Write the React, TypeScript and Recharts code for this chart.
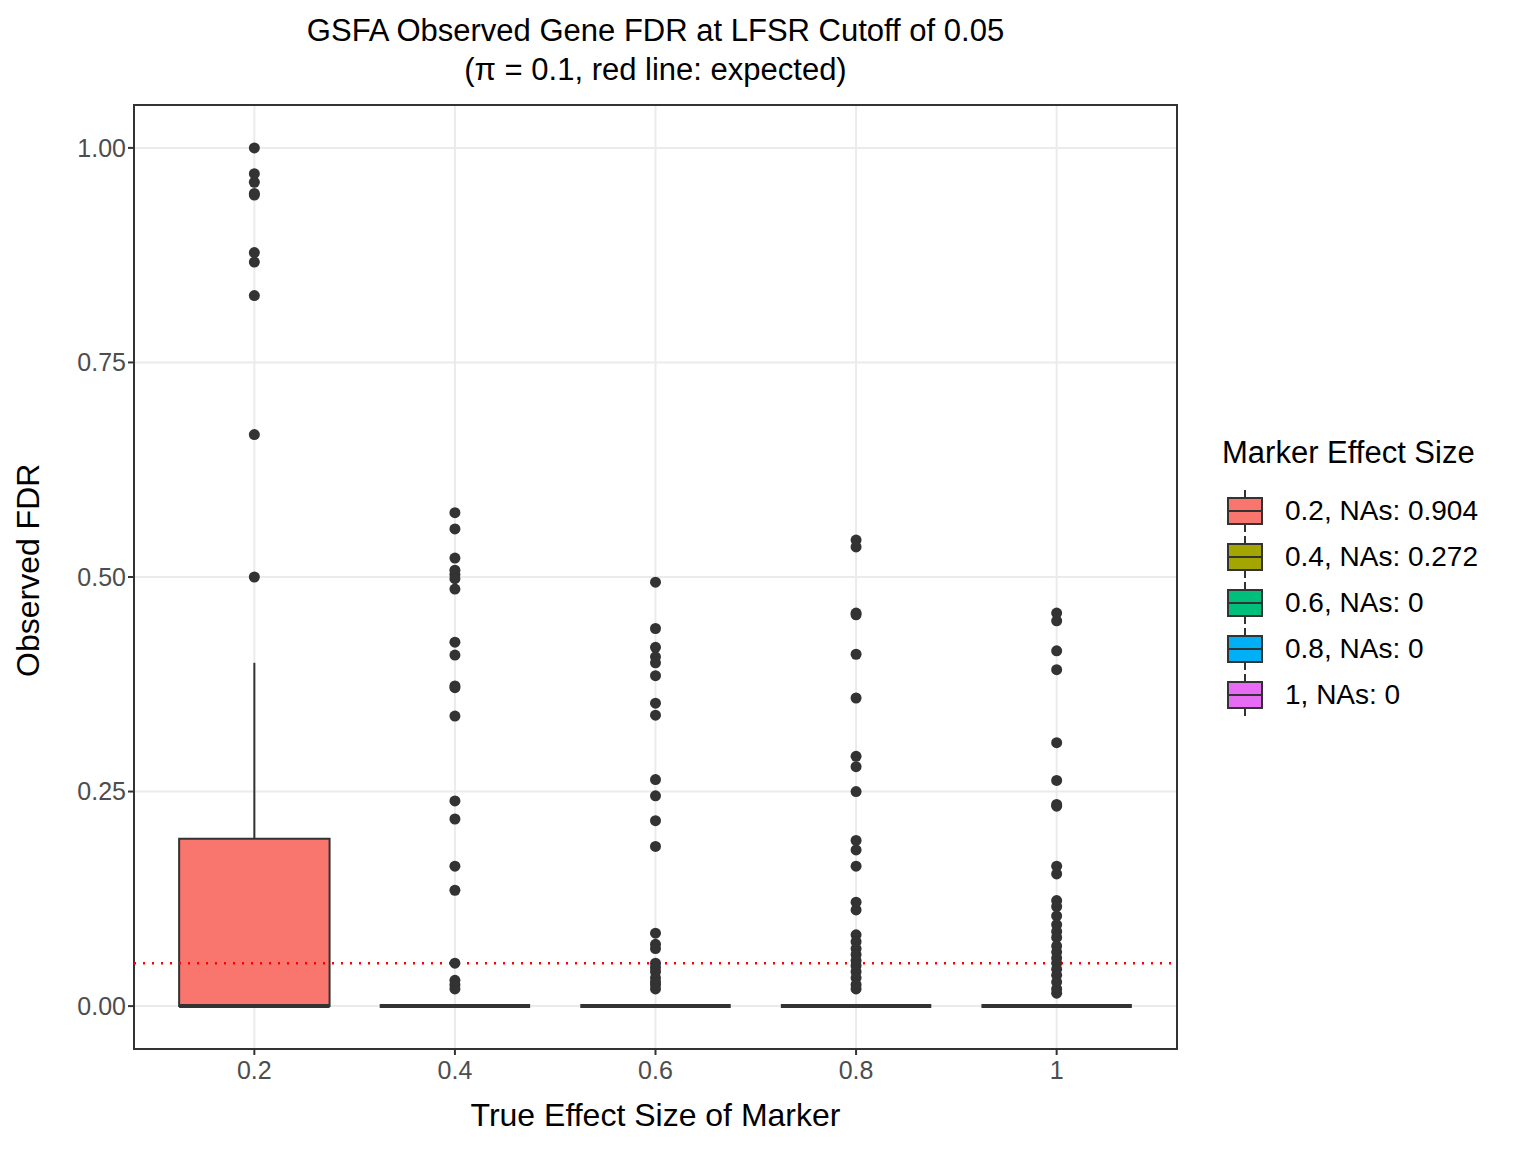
import { ComposedChart, Scatter, XAxis, YAxis, CartesianGrid, ReferenceArea, ReferenceLine } from 'recharts'

const groups = ['0.2', '0.4', '0.6', '0.8', '1']
const colors = ['#F8766D', '#A3A500', '#00BF7D', '#00B0F6', '#E76BF3']
const naLabels = ['0.2, NAs: 0.904', '0.4, NAs: 0.272', '0.6, NAs: 0', '0.8, NAs: 0', '1, NAs: 0']

// box stats: q1, median, q3, lower whisker, upper whisker
const q1 = [0, 0, 0, 0, 0]
const med = [0, 0, 0, 0, 0]
const q3 = [0.195, 0, 0, 0, 0]
const whiskLo = [0, 0, 0, 0, 0]
const whiskHi = [0.4, 0, 0, 0, 0]

const outliers: number[][] = [
  [1.0, 0.97, 0.96, 0.947, 0.945, 0.878, 0.867, 0.828, 0.666, 0.5],
  [0.575, 0.556, 0.522, 0.508, 0.503, 0.498, 0.486, 0.424, 0.409, 0.373, 0.371, 0.338, 0.239, 0.218, 0.163, 0.135, 0.05, 0.03, 0.025, 0.02],
  [0.494, 0.44, 0.418, 0.407, 0.4, 0.385, 0.353, 0.339, 0.264, 0.245, 0.216, 0.186, 0.085, 0.072, 0.067, 0.05, 0.045, 0.04, 0.033, 0.028, 0.025, 0.02],
  [0.543, 0.535, 0.458, 0.456, 0.41, 0.359, 0.291, 0.279, 0.25, 0.193, 0.182, 0.163, 0.121, 0.112, 0.083, 0.075, 0.067, 0.06, 0.053, 0.047, 0.04, 0.033, 0.025, 0.02],
  [0.458, 0.449, 0.414, 0.392, 0.307, 0.263, 0.235, 0.233, 0.163, 0.154, 0.123, 0.116, 0.105, 0.095, 0.087, 0.08, 0.07, 0.063, 0.056, 0.05, 0.043, 0.036, 0.028, 0.02, 0.015],
]

const yTicks = [0, 0.25, 0.5, 0.75, 1]
const points = outliers.flatMap((vals, i) => vals.map(v => ({ x: i + 1, y: v })))
const font = '"Liberation Sans", Arial, sans-serif'

export default function App() {
  return (
    <div style={{ position: 'absolute', left: 0, top: 0, width: 1536, height: 1152, background: '#fff', fontFamily: font }}>
      <div style={{ position: 'absolute', left: 134, width: 1043, top: 11, textAlign: 'center', fontSize: 31, lineHeight: '39px', color: '#000' }}>
        GSFA Observed Gene FDR at LFSR Cutoff of 0.05<br />(π = 0.1, red line: expected)
      </div>
      <ComposedChart width={1536} height={1152} margin={{ top: 105, right: 359, left: 0, bottom: 0 }}>
        <CartesianGrid stroke="#ebebeb" strokeWidth={2} horizontalValues={yTicks} verticalValues={[1, 2, 3, 4, 5]} />
        <XAxis type="number" dataKey="x" domain={[0.4, 5.6]} ticks={[1, 2, 3, 4, 5]} tickFormatter={(v: number) => groups[v - 1]}
          height={103} axisLine={false} tickLine={{ stroke: '#333', strokeWidth: 2 }} tickSize={6}
          tick={{ fill: '#4d4d4d', fontSize: 25, fontFamily: font, dy: 4 }}
          label={{ value: 'True Effect Size of Marker', position: 'insideBottom', offset: 26, fill: '#000', fontSize: 32, fontFamily: font }} />
        <YAxis type="number" dataKey="y" domain={[-0.05, 1.05]} ticks={yTicks} tickFormatter={(v: number) => v.toFixed(2)}
          width={134} axisLine={false} tickLine={{ stroke: '#333', strokeWidth: 2 }} tickSize={6}
          tick={{ fill: '#4d4d4d', fontSize: 25, fontFamily: font }}
          label={{ value: 'Observed FDR', angle: -90, position: 'insideLeft', offset: 28, dy: 100, fill: '#000', fontSize: 32, fontFamily: font }} />
        {groups.map((g, i) => (
          <ReferenceLine key={'w' + g} segment={[{ x: i + 1, y: q3[i] }, { x: i + 1, y: whiskHi[i] }]} stroke="#333" strokeWidth={2} />
        ))}
        {groups.map((g, i) => (
          <ReferenceLine key={'l' + g} segment={[{ x: i + 1, y: whiskLo[i] }, { x: i + 1, y: q1[i] }]} stroke="#333" strokeWidth={2} />
        ))}
        {groups.map((g, i) => (
          <ReferenceArea key={'b' + g} x1={i + 1 - 0.375} x2={i + 1 + 0.375} y1={q1[i]} y2={q3[i]} fill={colors[i]} fillOpacity={1} stroke="#333" strokeWidth={2} />
        ))}
        {groups.map((g, i) => (
          <ReferenceLine key={'m' + g} segment={[{ x: i + 1 - 0.375, y: med[i] }, { x: i + 1 + 0.375, y: med[i] }]} stroke="#333" strokeWidth={4} />
        ))}
        <Scatter data={points} fill="#333" isAnimationActive={false} shape={(p: any) => <circle cx={p.cx} cy={p.cy} r={5.5} fill="#333" />} />
        <ReferenceLine y={0.05} stroke="#ff0000" strokeWidth={2.5} strokeDasharray="2 7" />
        <ReferenceArea x1={0.4} x2={5.6} y1={-0.05} y2={1.05} fill="none" stroke="#333" strokeWidth={2} />
      </ComposedChart>
      <div style={{ position: 'absolute', left: 1222, top: 435, fontSize: 31, color: '#000' }}>Marker Effect Size</div>
      {naLabels.map((t, i) => (
        <div key={t} style={{ position: 'absolute', left: 1222, top: 488 + i * 46, height: 46, display: 'flex', alignItems: 'center' }}>
          <svg width={46} height={46}>
            <line x1={23} y1={2} x2={23} y2={44} stroke="#333" strokeWidth={2} />
            <rect x={6} y={10} width={34} height={26} fill={colors[i]} stroke="#333" strokeWidth={2} />
            <line x1={6} y1={23} x2={40} y2={23} stroke="#333" strokeWidth={2} />
          </svg>
          <span style={{ marginLeft: 17, fontSize: 28, color: '#000' }}>{t}</span>
        </div>
      ))}
    </div>
  )
}
